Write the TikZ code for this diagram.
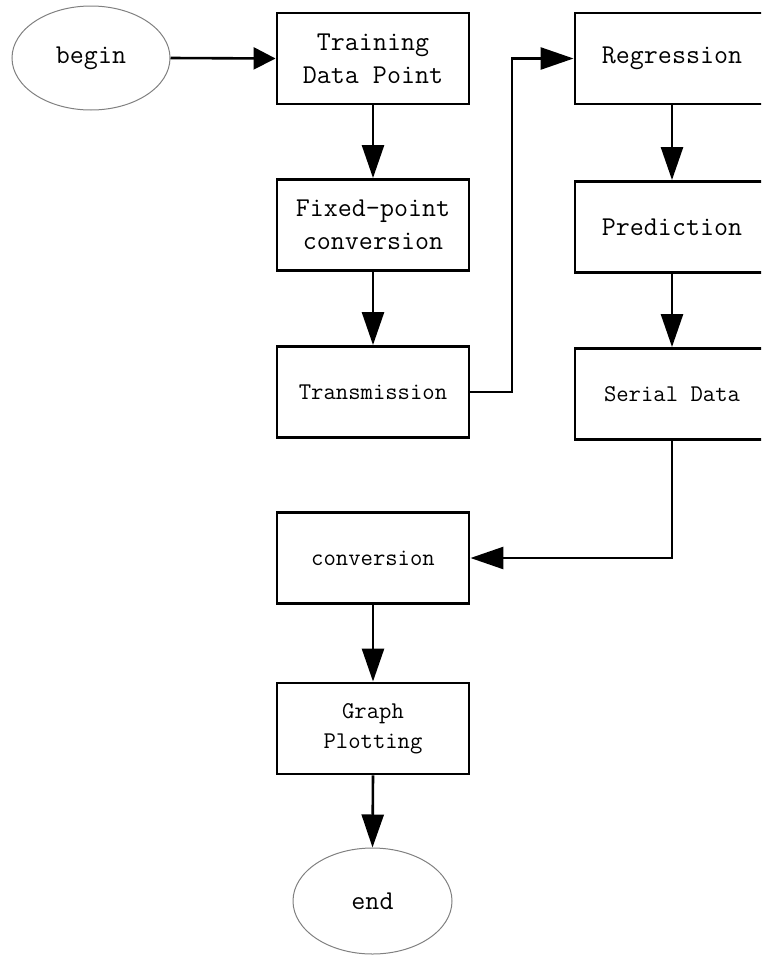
\documentclass[tikz,border=0pt]{standalone}
\usetikzlibrary{arrows.meta,shapes.geometric}
\begin{document}
\begin{tikzpicture}[x=1pt,y=-1pt,
  txt/.style={font=\ttfamily\fontsize{27.2}{33}\selectfont},
  small/.style={font=\ttfamily\fontsize{24}{30}\selectfont},
  box/.style={txt,draw=black,line width=2.9pt,rectangle,minimum width=192pt,minimum height=91pt,align=center,inner sep=0pt},
  oval/.style={txt,draw=gray,line width=1pt,ellipse,minimum width=158pt,minimum height=104pt,inner sep=0pt},
  conn/.style={line width=2.6pt,-{Triangle[length=33pt,width=22pt]}},
  connshort/.style={line width=2.6pt,-{Triangle[length=22pt,width=22pt]}}]
\useasboundingbox (0,0) rectangle (761,956);
\clip (0,0) rectangle (761,956);
\node[oval] (begin) at (91,58) {begin};
\node[box] (train) at (373,58.5) {Training\\Data Point};
\node[box] (fixed) at (373,225) {Fixed-point\\conversion};
\node[box,small] (trans) at (373,392) {Transmission};
\node[box,minimum width=194pt] (regr) at (672,58.5) {Regression};
\node[box,minimum width=194pt] (pred) at (672,227) {Prediction};
\node[box,small,minimum width=194pt] (serial) at (672,394) {Serial Data};
\node[box,small] (conv) at (373,558) {conversion};
\node[box,small] (graph) at (373,728.5) {Graph\\Plotting};
\node[oval,minimum width=159pt,minimum height=106pt] (end) at (372.5,901) {end};
\coordinate (j1) at (512,392);
\coordinate (j2) at (512,58.5);
\coordinate (j3) at (672,558);
\draw[connshort] (begin.east) -- (train.west);
\draw[conn] (train.south) -- (fixed.north);
\draw[conn] (fixed.south) -- (trans.north);
\draw[conn] (trans.east) -- (j1) -- (j2) -- (regr.west);
\draw[conn] (regr.south) -- (pred.north);
\draw[conn] (pred.south) -- (serial.north);
\draw[conn] (serial.south) -- (j3) -- (conv.east);
\draw[conn] (conv.south) -- (graph.north);
\draw[conn] (graph.south) -- (end.north);
\end{tikzpicture}
\end{document}
